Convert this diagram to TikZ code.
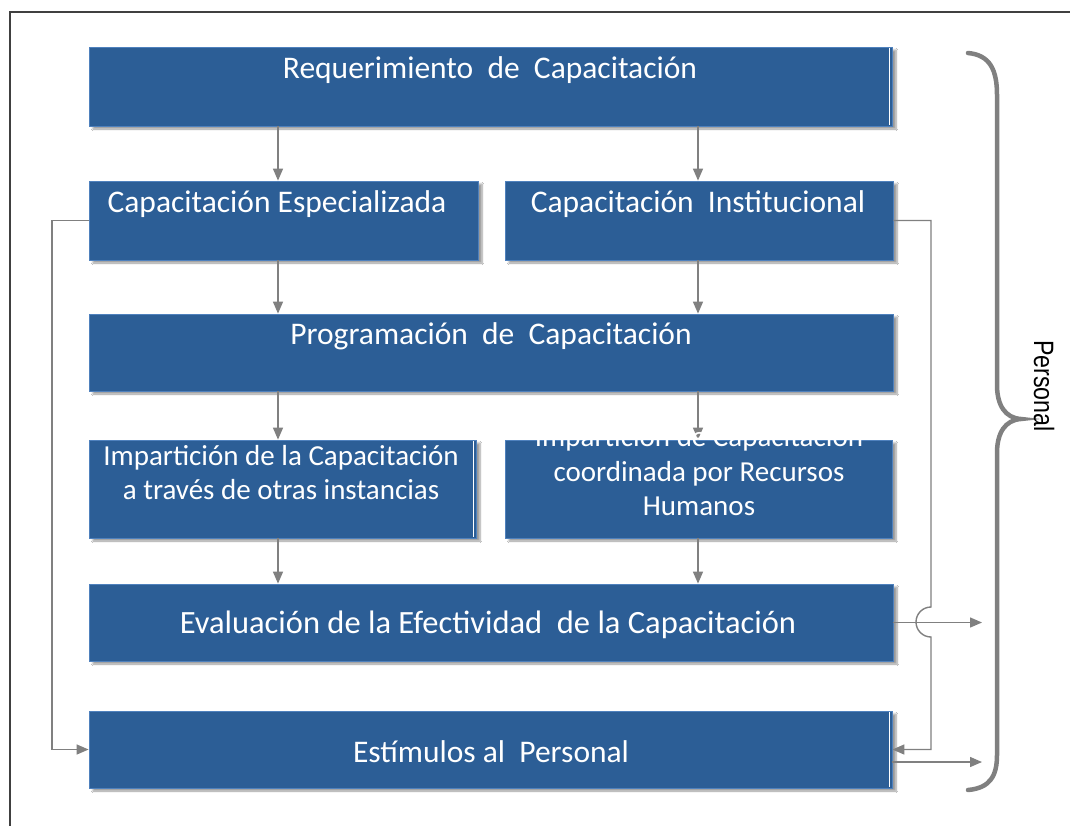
\documentclass[tikz,border=0pt]{standalone}
\usepackage{fontspec}
\setmainfont{Carlito}
\newfontfamily\narrowfont[FakeStretch=0.83]{Liberation Sans}
\usetikzlibrary{arrows.meta,shadows.blur}
\definecolor{boxblue}{RGB}{44,94,150}
\definecolor{boxedge}{RGB}{79,129,189}
\definecolor{conngray}{RGB}{128,128,128}
\tikzset{
  box/.style={draw=boxedge,line width=0.8pt,fill=boxblue,rectangle,inner sep=0pt,
    blur shadow={shadow xshift=4pt,shadow yshift=-3pt,shadow blur steps=6,shadow opacity=40}},
  txt/.style={text=white,font=\fontsize{31.5}{34.5}\selectfont,align=center,inner sep=0pt},
  smalltxt/.style={txt,font=\fontsize{29}{34.5}\selectfont},
  conn/.style={draw=conngray,line width=1.4pt,-{Triangle[length=12pt,width=10pt]}},
  strip/.style={draw=white,line width=1.6pt}
}
\begin{document}
\begin{tikzpicture}[x=1pt,y=-1pt]
\useasboundingbox (0,0) rectangle (1070,825);
\fill[white] (0,0) rectangle (1070,825);
\draw[line width=1.2pt,black!75] (10,12) rectangle (1085,840);

% boxes
\node[box,minimum width=803pt,minimum height=79pt] (b1) at (490.5,86.5) {};
\node[box,minimum width=389pt,minimum height=79pt] (b2) at (283.5,220.5) {};
\node[box,minimum width=388pt,minimum height=79pt] (b3) at (699,220.5) {};
\node[box,minimum width=804pt,minimum height=77pt] (b4) at (491,352.5) {};
\node[box,minimum width=387pt,minimum height=98pt] (b5) at (282.5,489) {};
\node[box,minimum width=387pt,minimum height=98pt] (b6) at (698.5,489) {};
\node[box,minimum width=804pt,minimum height=77pt] (b7) at (491,622.5) {};
\node[box,minimum width=803pt,minimum height=77pt] (b8) at (490.5,749.5) {};

% white strips on right edges
\draw[strip] ([xshift=-3pt,yshift=-1pt]b1.north east) -- ([xshift=-3pt,yshift=1pt]b1.south east);
\draw[strip] ([xshift=-3pt,yshift=-1pt]b5.north east) -- ([xshift=-3pt,yshift=1pt]b5.south east);
\draw[strip] ([xshift=-3pt,yshift=-1pt]b8.north east) -- ([xshift=-3pt,yshift=1pt]b8.south east);

% vertical connectors
\coordinate (xl) at (278,0);
\coordinate (xr) at (698,0);
\draw[conn] (b1.south -| xl) -- (b2.north -| xl);
\draw[conn] (b1.south -| xr) -- (b3.north -| xr);
\draw[conn] (b2.south -| xl) -- (b4.north -| xl);
\draw[conn] (b3.south -| xr) -- (b4.north -| xr);
\draw[conn] (b4.south -| xl) -- (b5.north -| xl);
\draw[conn] (b4.south -| xr) -- (b6.north -| xr);
\draw[conn] (b5.south -| xl) -- (b7.north -| xl);
\draw[conn] (b6.south -| xr) -- (b7.north -| xr);

% side connectors
\coordinate (lx) at (52,0);
\coordinate (rx) at (931,0);
\coordinate (jt) at (931,607);
\coordinate (o1) at (982,622.5);
\coordinate (o2) at (982,762);
\draw[conn] (b2.west) -- (b2.west -| lx) |- (b8.west);
\draw[conn] (b3.east) -- (b3.east -| rx) -- (jt) arc[start angle=90,end angle=270,radius=15pt] |- (b8.east);
\draw[conn] (b7.east) -- (o1);
\draw[conn] (b8.east |- o2) -- (o2);

% brace
\draw[conngray,line width=4.5pt,line cap=round]
  (968,53) .. controls (990,55) and (997,70) .. (997,95) -- (997,385)
  .. controls (997,405) and (1005,418) .. (1021,419)
  .. controls (1005,420) and (997,433) .. (997,453) -- (997,755)
  .. controls (997,776) and (990,788) .. (968,790);
\node[rotate=-90,font=\narrowfont\fontsize{28}{28}\selectfont,inner sep=0pt] (pers) at (1044,386) {Personal};

% texts
\node[txt] (t1) at (490,70) {Requerimiento\ \ de\ \ Capacitación};
\node[txt] (t2) at (277,204) {Capacitación Especializada};
\node[txt] (t3) at (698,204) {Capacitación\ \ Institucional};
\node[txt] (t4) at (491,336) {Programación\ \ de\ \ Capacitación};
\node[smalltxt] (t5) at (281,472.5) {Impartición de la Capacitación\\a través de otras instancias};
\node[smalltxt] (t6) at (699,471.5) {Impartición de Capacitación\\coordinada por Recursos\\Humanos};
\node[txt,font=\fontsize{32.5}{34.5}\selectfont] (t7) at (488,625) {Evaluación de la Efectividad\ \ de la Capacitación};
\node[txt] (t8) at (491,752) {Estímulos al\ \ Personal};
\end{tikzpicture}
\end{document}
